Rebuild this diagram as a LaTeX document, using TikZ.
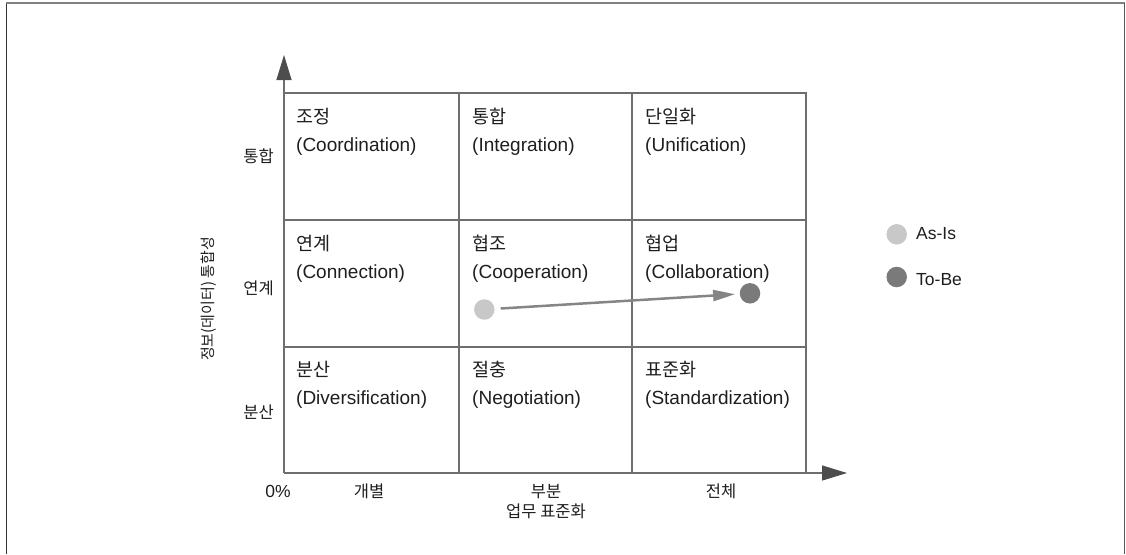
\documentclass[tikz,border=0pt]{standalone}
\usepackage{fontspec}
\setmainfont{Liberation Sans}
\newfontfamily\kr{Noto Sans CJK KR}
\usetikzlibrary{arrows.meta}
\definecolor{gridc}{HTML}{6E6E6E}
\definecolor{axhead}{HTML}{4D4D4D}
\definecolor{txt}{HTML}{1E1E1E}
\definecolor{asisc}{HTML}{C8C8C8}
\definecolor{tobec}{HTML}{7A7A7A}
\definecolor{movec}{HTML}{858585}
\begin{document}
\begin{tikzpicture}[x=1pt,y=-1pt,
  gridline/.style={draw=gridc,line width=1.2pt},
  axisline/.style={draw=gridc,line width=1.2pt,-{Triangle[length=25pt,width=15pt,color=axhead]}},
  kcell/.style={anchor=base west,inner sep=0pt,text=txt,font=\kr\fontsize{18.5}{22}\selectfont},
  ecell/.style={anchor=base west,inner sep=0pt,text=txt,font=\fontsize{19}{22}\selectfont},
  ylab/.style={anchor=base east,inner sep=0pt,text=txt,font=\kr\fontsize{16.5}{20}\selectfont},
  xlab/.style={anchor=base,inner sep=0pt,text=txt,font=\kr\fontsize{16.5}{20}\selectfont},
  dot/.style={circle,inner sep=0pt,minimum size=20.5pt},
  legtext/.style={anchor=base west,inner sep=0pt,text=txt,font=\fontsize{17.5}{20}\selectfont},
  move/.style={draw=movec,line width=2.5pt,shorten <=6pt,shorten >=4.5pt,-{Triangle[length=22pt,width=11pt]}}
]
\useasboundingbox (0,0) rectangle (1126,554);
% outer frame
\draw[draw=black!80,line width=1pt] (6,554) -- (6,3);
\draw[draw=black!50,line width=1.2pt] (6,3) -- (1124.5,3);
\draw[draw=black!65,line width=1.5pt] (1124.5,3) -- (1124.5,554);
% grid
\draw[gridline] (284,93) -- (806,93) -- (806,473);
\draw[gridline] (459,93) -- (459,473);
\draw[gridline] (632,93) -- (632,473);
\draw[gridline] (284,220) -- (806,220);
\draw[gridline] (284,347) -- (806,347);
% axes
\coordinate (origin) at (284,473);
\coordinate (ytip) at (284,55);
\coordinate (xtip) at (847,473);
\draw[axisline] (origin) -- (ytip);
\draw[axisline] (origin) -- (xtip);
% cells row 1
\node[kcell] (k11) at (296,123) {조정};
\node[ecell] (e11) at (296,151) {(Coordination)};
\node[kcell] (k12) at (472,123) {통합};
\node[ecell] (e12) at (472,151) {(Integration)};
\node[kcell] (k13) at (645,123) {단일화};
\node[ecell] (e13) at (645,151) {(Unification)};
% row 2
\node[kcell] (k21) at (296,250) {연계};
\node[ecell] (e21) at (296,278) {(Connection)};
\node[kcell] (k22) at (472,250) {협조};
\node[ecell] (e22) at (472,278) {(Cooperation)};
\node[kcell] (k23) at (645,250) {협업};
\node[ecell] (e23) at (645,278) {(Collaboration)};
% row 3
\node[kcell] (k31) at (296,376) {분산};
\node[ecell] (e31) at (296,404) {(Diversification)};
\node[kcell] (k32) at (472,376) {절충};
\node[ecell] (e32) at (472,404) {(Negotiation)};
\node[kcell] (k33) at (645,376) {표준화};
\node[ecell] (e33) at (645,404) {(Standardization)};
% y labels
\node[ylab] (yl1) at (274,162) {통합};
\node[ylab] (yl2) at (274,294) {연계};
\node[ylab] (yl3) at (274,418) {분산};
\node[inner sep=0pt,text=txt,font=\kr\fontsize{15}{18}\selectfont,rotate=90] (ytitle) at (209,299) {정보(데이터) 통합성};
% x labels
\node[anchor=base,inner sep=0pt,text=txt,font=\fontsize{17.5}{20}\selectfont] (x0) at (278,497) {0\%};
\node[xlab] (xl1) at (369,497) {개별};
\node[xlab] (xl2) at (546,497) {부분};
\node[xlab] (xtitle) at (546,517) {업무 표준화};
\node[xlab] (xl3) at (721,497) {전체};
% dots and move
\node[dot,fill=asisc] (asis) at (484.3,309.5) {};
\node[dot,fill=tobec] (tobe) at (750,293.3) {};
\draw[move] (asis) -- (tobe);
% legend
\node[dot,fill=asisc] (lasis) at (896.7,234.3) {};
\node[legtext] (tasis) at (916,239.5) {As-Is};
\node[dot,fill=tobec] (ltobe) at (896.7,277) {};
\node[legtext] (ttobe) at (916,285) {To-Be};
\end{tikzpicture}
\end{document}
